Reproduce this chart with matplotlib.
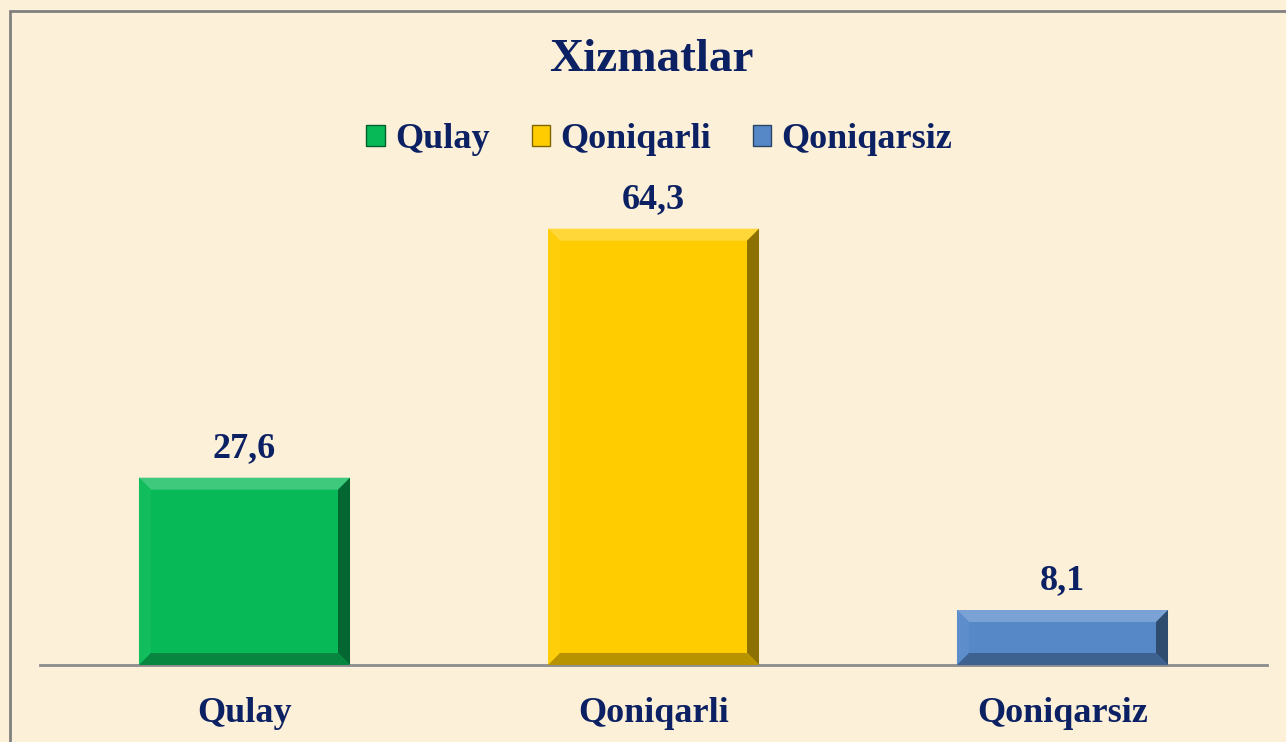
import matplotlib
matplotlib.use("Agg")
import matplotlib.pyplot as plt
from matplotlib.patches import Rectangle, Polygon, Patch
import matplotlib.colors as mcolors

categories = ["Qulay", "Qoniqarli", "Qoniqarsiz"]
values = [27.6, 64.3, 8.1]
value_labels = ["27,6", "64,3", "8,1"]
colors = ["#08BA57", "#FFCC00", "#5688C8"]
title = "Xizmatlar"

navy = "#0C2163"
bg = "#FCF0D8"
plt.rcParams["font.family"] = ["Liberation Serif", "DejaVu Serif"]
plt.rcParams["font.weight"] = "bold"


def shade(c, f):
	r, g, b = mcolors.to_rgb(c)
	if f > 0:
		return (r + (1 - r) * f, g + (1 - g) * f, b + (1 - b) * f)
	return (r * (1 + f), g * (1 + f), b * (1 + f))


def bevel(ax, bar, color, depth=12):
	# corners in pixels, then bevel trapezoids back to data coords
	inv = ax.transData.inverted()
	x0, y0 = ax.transData.transform((bar.get_x(), bar.get_y()))
	x1, y1 = ax.transData.transform((bar.get_x() + bar.get_width(), bar.get_y() + bar.get_height()))
	d = min(depth, (y1 - y0) / 2.5)
	faces = [
		([(x0, y1), (x1, y1), (x1 - d, y1 - d), (x0 + d, y1 - d)], shade(color, 0.22)),
		([(x0, y0), (x0, y1), (x0 + d, y1 - d), (x0 + d, y0 + d)], shade(color, 0.04)),
		([(x1, y0), (x1, y1), (x1 - d, y1 - d), (x1 - d, y0 + d)], shade(color, -0.45)),
		([(x0, y0), (x1, y0), (x1 - d, y0 + d), (x0 + d, y0 + d)], shade(color, -0.28)),
	]
	for pts, fc in faces:
		ax.add_patch(Polygon([inv.transform(p) for p in pts], closed=True,
			facecolor=fc, edgecolor="none", zorder=3))


fig = plt.figure(figsize=(12.86, 7.42), dpi=100, facecolor=bg)
fig.patches.append(Rectangle((10 / 1286, -0.1), 1.2, 1 - 11 / 742 + 0.1,
	transform=fig.transFigure, fill=False, edgecolor="#808080", linewidth=2))

ax = fig.add_axes([40 / 1286, 77 / 742, 1227 / 1286, 475 / 742])
ax.set_facecolor("none")
ax.set_xlim(-0.5, 2.5)
ax.set_ylim(0, 70)

bars = ax.bar(range(len(values)), values, width=0.516, color=colors, zorder=2)
for b, c in zip(bars, colors):
	bevel(ax, b, c)
ax.bar_label(bars, labels=value_labels, padding=9, fontsize=26, color=navy, fontweight="bold")

for s in ["top", "left", "right"]:
	ax.spines[s].set_visible(False)
ax.spines["bottom"].set_color("#8C8C8C")
ax.spines["bottom"].set_linewidth(2)
ax.set_yticks([])
ax.set_xticks(range(len(categories)))
ax.set_xticklabels(categories, fontsize=26, color=navy, fontweight="bold")
ax.tick_params(axis="x", length=0, pad=23)

fig.text(0.5066, 1 - 60 / 742, title, ha="center", va="center",
	fontsize=34, color=navy, fontweight="bold")

handles = [Patch(facecolor=c, edgecolor=shade(c, -0.5), linewidth=1) for c in colors]
leg = fig.legend(handles, categories, loc="center", bbox_to_anchor=(0.5128, 1 - 140 / 742),
	ncol=3, frameon=False, fontsize=26, handlelength=0.5, handleheight=0.5,
	handletextpad=0.3, columnspacing=1.15)
for t in leg.get_texts():
	t.set_color(navy)

plt.savefig("out.png", facecolor=bg)
